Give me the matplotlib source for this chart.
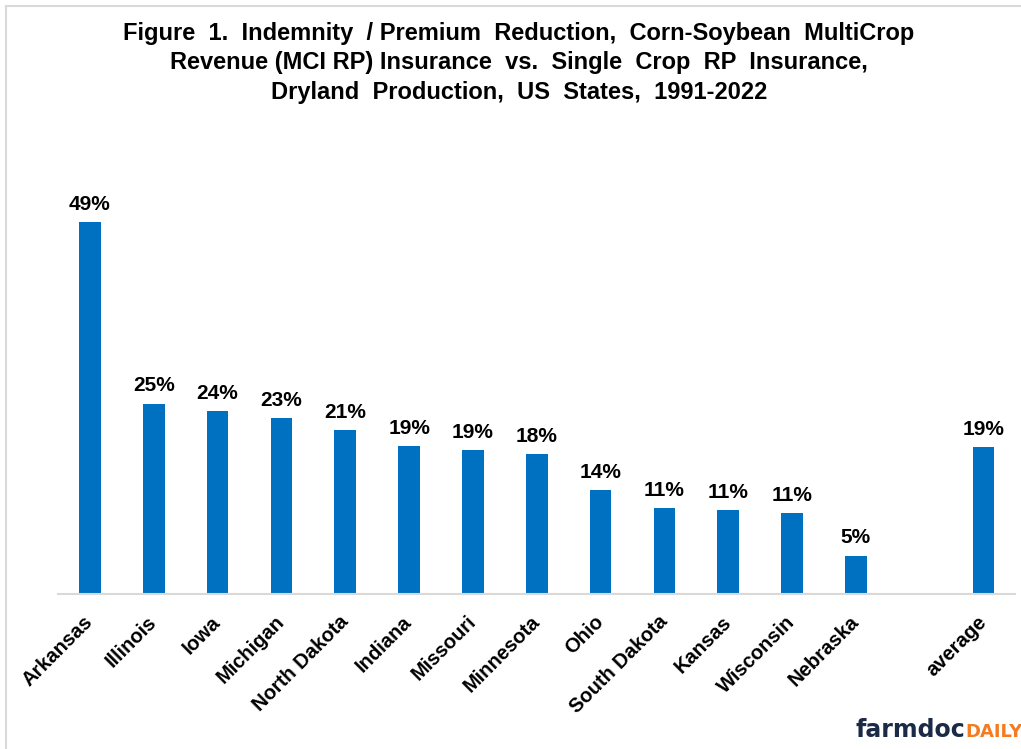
import matplotlib.pyplot as plt
import numpy as np
from matplotlib.lines import Line2D

# data (percent)
states = ['Arkansas', 'Illinois', 'Iowa', 'Michigan', 'North Dakota', 'Indiana',
          'Missouri', 'Minnesota', 'Ohio', 'South Dakota', 'Kansas', 'Wisconsin',
          'Nebraska', '', 'average']
values = [48.6, 24.9, 23.9, 23.0, 21.4, 19.3, 18.8, 18.3, 13.6, 11.2, 11.0, 10.6,
          5.0, np.nan, 19.2]

title_lines = ['Figure  1.  Indemnity  / Premium  Reduction,  Corn-Soybean  MultiCrop',
               'Revenue (MCI RP) Insurance  vs.  Single  Crop  RP  Insurance,',
               'Dryland  Production,  US  States,  1991-2022']

blue = '#0070C0'
plt.rcParams['font.family'] = ['Liberation Sans', 'DejaVu Sans']

fig = plt.figure(figsize=(10.21, 7.49), dpi=100)
ax = fig.add_axes([0.0568, 0.2069, 0.9378, 0.5618])

x = np.arange(len(states))
vals = np.array(values)
bars = ax.bar(x, np.nan_to_num(vals), width=0.34, color=blue)

for xi, v in zip(x, vals):
    if np.isnan(v):
        continue
    ax.annotate(f'{v:.0f}%', (xi, v), xytext=(0, 6), textcoords='offset points',
                ha='center', va='bottom', fontsize=15, fontweight='bold')

ax.set_xlim(-0.5, len(states) - 0.5)
ax.set_ylim(0, 55)
ax.set_yticks([])
for s in ['top', 'right', 'left']:
    ax.spines[s].set_visible(False)
ax.spines['bottom'].set_color('#D9D9D9')
ax.spines['bottom'].set_linewidth(1.5)

ax.set_xticks(x)
ax.set_xticklabels(states, rotation=45, ha='right', va='center',
                   rotation_mode='anchor', fontsize=14.5, fontweight='bold')
ax.tick_params(axis='x', length=0, pad=18)

# title, three centred lines
for i, line in enumerate(title_lines):
    fig.text(519 / 1021, 1 - (40 + 29.5 * i) / 749, line, ha='center',
             va='baseline', fontsize=17, fontweight='bold')

# light border on top and left
fig.add_artist(Line2D([6 / 1021, 6 / 1021], [0, 1 - 6 / 749],
                      transform=fig.transFigure, color='#D9D9D9', lw=1.5))
fig.add_artist(Line2D([6 / 1021, 1], [1 - 6 / 749, 1 - 6 / 749],
                      transform=fig.transFigure, color='#D9D9D9', lw=1.5))

# farmdoc daily logo
t = fig.text(855 / 1021, 1 - 737 / 749, 'farmdoc', ha='left', va='baseline',
             fontsize=17, fontweight='bold', color='#1B2A47', family='DejaVu Sans')
fig.canvas.draw()
bb = t.get_window_extent()
fig.text(bb.x1 / 1021 + 0.001, 1 - 737 / 749, 'DAILY', ha='left', va='baseline',
         fontsize=13, fontweight='bold', color='#F47B20', family='DejaVu Sans')

fig.savefig('out.png', dpi=100)
